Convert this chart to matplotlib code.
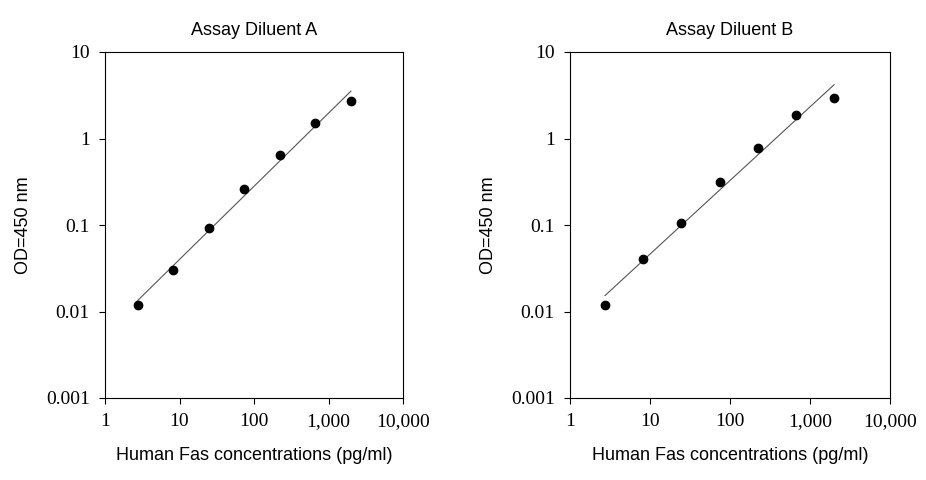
import numpy as np
import matplotlib
matplotlib.use("Agg")
import matplotlib.pyplot as plt
from matplotlib.ticker import FixedLocator, FixedFormatter, NullLocator

# ── data ──────────────────────────────────────────────────────────────────────
conc = [2.74, 8.23, 24.7, 74.1, 222, 667, 2000]
od_a = [0.012, 0.030, 0.093, 0.26, 0.65, 1.5, 2.7]
od_b = [0.012, 0.040, 0.105, 0.31, 0.78, 1.85, 2.95]
titles = ["Assay Diluent A", "Assay Diluent B"]
xticks = [1, 10, 100, 1000, 10000]
xlabels = ["1", "10", "100", "1,000", "10,000"]
yticks = [0.001, 0.01, 0.1, 1, 10]
ylabels = ["0.001", "0.01", "0.1", "1", "10"]

fig = plt.figure(figsize=(9.26, 4.8), dpi=100)
boxes = [[105/926, 82/480, 298/926, 346/480], [570/926, 82/480, 320/926, 346/480]]

for box, title, od in zip(boxes, titles, [od_a, od_b]):
    ax = fig.add_axes(box)
    lx, ly = np.log10(conc), np.log10(od)
    slope, icpt = np.polyfit(lx, ly, 1)
    xf = np.array([conc[0], conc[-1]])
    ax.plot(xf, 10 ** (icpt + slope * np.log10(xf)), color="#555555", lw=0.8)
    ax.plot(conc, od, "o", color="black", ms=6)
    ax.set_xscale("log")
    ax.set_yscale("log")
    ax.set_xlim(1, 10000)
    ax.set_ylim(0.001, 10)
    ax.xaxis.set_major_locator(FixedLocator(xticks))
    ax.xaxis.set_major_formatter(FixedFormatter(xlabels))
    ax.yaxis.set_major_locator(FixedLocator(yticks))
    ax.yaxis.set_major_formatter(FixedFormatter(ylabels))
    ax.xaxis.set_minor_locator(NullLocator())
    ax.yaxis.set_minor_locator(NullLocator())
    for lab in ax.get_xticklabels() + ax.get_yticklabels():
        lab.set_fontfamily("Liberation Serif")
        lab.set_fontsize(14)
    ax.tick_params(direction="out", length=4, width=0.8, pad=7)
    for s in ax.spines.values():
        s.set_linewidth(0.8)
    ax.set_title(title, fontsize=13, family="Liberation Sans", pad=12)
    ax.set_xlabel("Human Fas concentrations (pg/ml)", fontsize=13, family="Liberation Sans", labelpad=12)
    ax.set_ylabel("OD=450 nm", fontsize=13, family="Liberation Sans", labelpad=10)

fig.savefig("out.png", dpi=100)
